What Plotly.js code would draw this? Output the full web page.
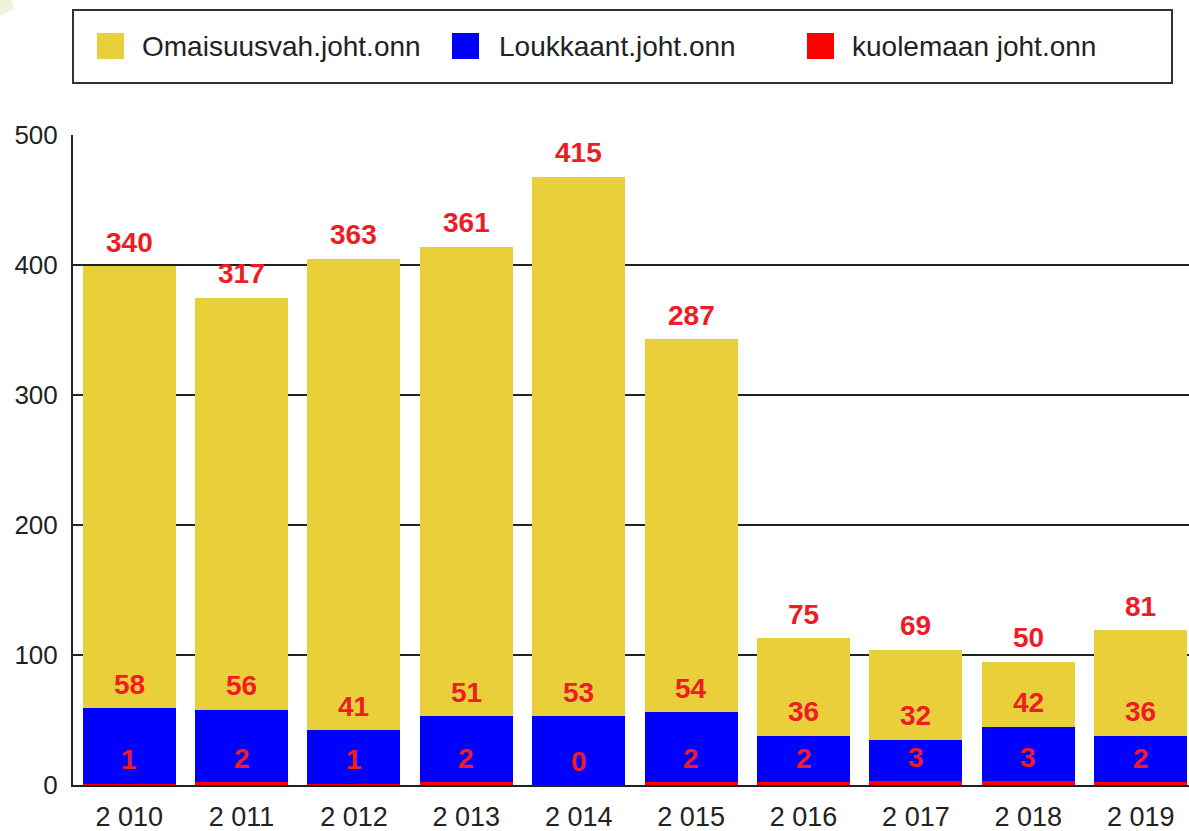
<!DOCTYPE html>
<html>
<head>
<meta charset="utf-8">
<script src="https://cdn.plot.ly/plotly-3.0.1.min.js"></script>
<style>
html,body{margin:0;padding:0;background:#ffffff;}
#chart{width:1189px;height:831px;}
</style>
</head>
<body>
<div id="chart"></div>
<script>
// ---- data ----
const years = ['2010','2011','2012','2013','2014','2015','2016','2017','2018','2019'];
const yearLabels = ['2 010','2 011','2 012','2 013','2 014','2 015','2 016','2 017','2 018','2 019'];
const seriesNames = ['Omaisuusvah.joht.onn','Loukkaant.joht.onn','kuolemaan joht.onn'];
const omaisuus  = [340,317,363,361,415,287,75,69,50,81];
const loukkaant = [58,56,41,51,53,54,36,32,42,36];
const kuolemaan = [1,2,1,2,0,2,2,3,3,2];
const yTicks = [0,100,200,300,400,500];

// ---- styles ----
const colYellow = '#E9D03B';
const colBlue = '#0000FF';
const colRed = '#FF0000';
const labelRed = '#EE1C25';
const FONT = 'Liberation Sans, Arial, sans-serif';

// geometry helpers (pixel -> paper)
const W = 1189, H = 831, ML = 73, MR = 0, MT = 135, MB = 46;
const PW = W - ML - MR, PH = H - MT - MB;
const px = p => (p - ML) / PW;
const py = p => (H - MB - p) / PH;

// stacking bottom -> top
const stackSeries = [kuolemaan, loukkaant, omaisuus];
const stackNames = [seriesNames[2], seriesNames[1], seriesNames[0]];
const stackColors = [colRed, colBlue, colYellow];

const traces = stackSeries.map((vals, i) => ({
  type: 'bar',
  x: years,
  y: vals,
  name: stackNames[i],
  marker: {color: stackColors[i], line: {width: 0}},
  hoverinfo: 'x+y+name'
}));

// value labels above each segment top (x = category index)
const annotations = [];
const cum = years.map(() => 0);
stackSeries.forEach(vals => {
  vals.forEach((v, j) => {
    cum[j] += v;
    annotations.push({
      x: j, y: cum[j], xref: 'x', yref: 'y',
      text: '<b>' + v + '</b>', showarrow: false,
      yanchor: 'middle', yshift: 24,
      font: {family: FONT, size: 28, color: labelRed}
    });
  });
});

// custom legend (order as in reference)
const legendItems = [
  {name: seriesNames[0], color: colYellow, sw: 97, tx: 140},
  {name: seriesNames[1], color: colBlue, sw: 452, tx: 497},
  {name: seriesNames[2], color: colRed, sw: 807, tx: 850}
];
const shapes = [
  {type: 'rect', xref: 'paper', yref: 'paper',
   x0: px(73), x1: px(1172), y0: py(10), y1: py(83),
   line: {color: '#333333', width: 2}, fillcolor: 'rgba(0,0,0,0)'},
  {type: 'path', xref: 'paper', yref: 'paper',
   path: `M ${px(0)} ${py(0)} L ${px(12)} ${py(0)} L ${px(14)} ${py(9)} L ${px(0)} ${py(16)} Z`,
   line: {width: 0}, fillcolor: '#EEF4DC'}
];
legendItems.forEach(it => {
  shapes.push({type: 'rect', xref: 'paper', yref: 'paper',
    x0: px(it.sw), x1: px(it.sw + 27), y0: py(33), y1: py(59),
    line: {width: 0}, fillcolor: it.color});
  annotations.push({xref: 'paper', yref: 'paper', x: px(it.tx), y: py(46),
    xanchor: 'left', yanchor: 'middle', showarrow: false, text: it.name,
    font: {family: FONT, size: 28, color: '#222222'}});
});

const layout = {
  width: W, height: H,
  margin: {l: ML, r: MR, t: MT, b: MB, pad: 0},
  paper_bgcolor: '#ffffff', plot_bgcolor: '#ffffff',
  barmode: 'stack', bargap: 0.173,
  showlegend: false,
  xaxis: {
    type: 'category', range: [-0.5, 9.43],
    tickvals: years, ticktext: yearLabels,
    showline: true, linecolor: '#222222', linewidth: 2,
    ticks: '', showgrid: false, zeroline: false,
    layer: 'below traces', ticklabelstandoff: 7,
    tickfont: {family: FONT, size: 27, color: '#222222'}
  },
  yaxis: {
    range: [0, 500], tickvals: yTicks, ticktext: yTicks.map(String),
    showline: true, linecolor: '#222222', linewidth: 2,
    showgrid: true, gridcolor: '#222222', gridwidth: 2,
    ticks: '', zeroline: false, ticklabelstandoff: 8,
    tickfont: {family: FONT, size: 26, color: '#222222'}
  },
  annotations: annotations,
  shapes: shapes
};

Plotly.newPlot('chart', traces, layout, {displayModeBar: false, staticPlot: true});
</script>
</body>
</html>
